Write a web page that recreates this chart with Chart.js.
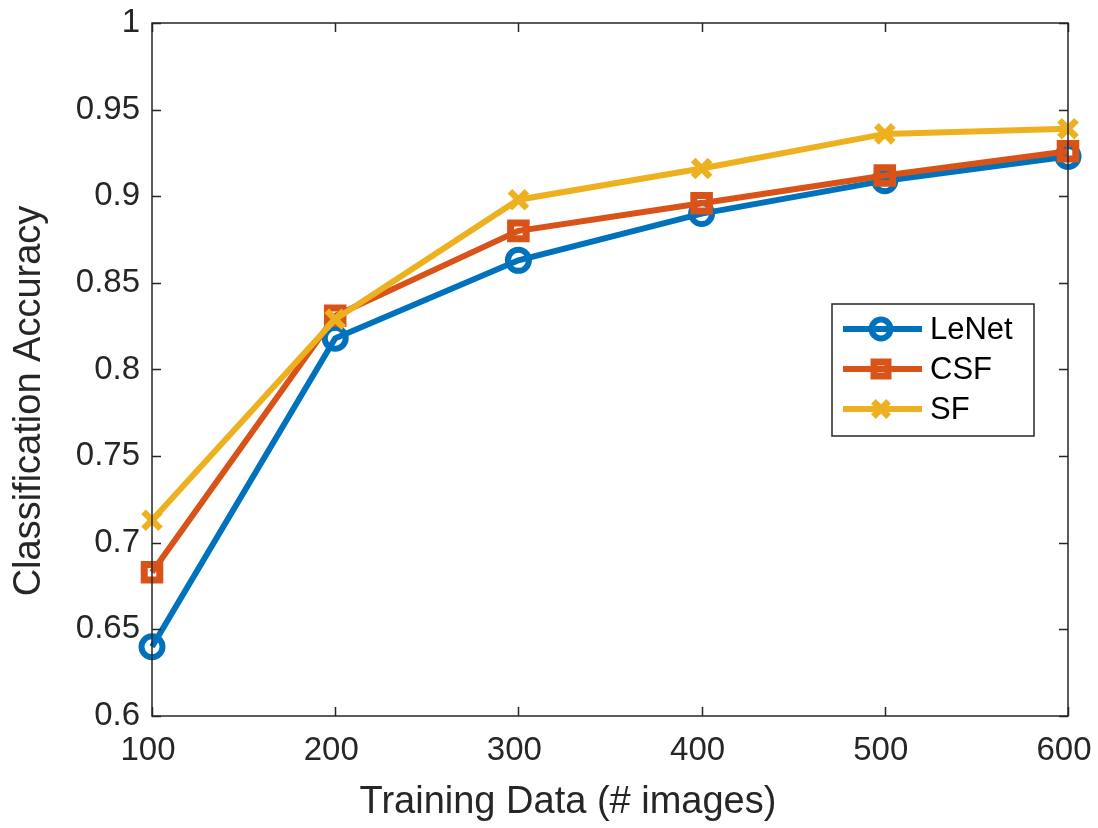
<!DOCTYPE html>
<html>
<head>
<meta charset="utf-8">
<script src="https://cdn.jsdelivr.net/npm/chart.js@4.4.1/dist/chart.umd.min.js"></script>
<style>
html,body{margin:0;padding:0;background:#fff;}
#wrap{width:1098px;height:828px;position:relative;}
</style>
</head>
<body>
<div id="wrap"><canvas id="c" width="1098" height="828"></canvas></div>
<script>
// ---- data ----
const trainingSizes = [100, 200, 300, 400, 500, 600];
const lenetAcc = [0.640, 0.818, 0.863, 0.890, 0.909, 0.923];
const csfAcc   = [0.683, 0.831, 0.880, 0.896, 0.912, 0.926];
const sfAcc    = [0.713, 0.829, 0.898, 0.916, 0.936, 0.939];
const seriesNames = ['LeNet', 'CSF', 'SF'];
const xTickValues = [100, 200, 300, 400, 500, 600];
const yTickValues = [0.6, 0.65, 0.7, 0.75, 0.8, 0.85, 0.9, 0.95, 1];
const xTitle = 'Training Data (# images)';
const yTitle = 'Classification Accuracy';

const FONT = '"Liberation Sans", Arial, Helvetica, sans-serif';
const AXC = '#262626';
const COLORS = ['#0072BD', '#D95319', '#EDB120'];

function pts(vals){ return trainingSizes.map((x,i)=>({x:x, y:vals[i]})); }

const datasets = [
  {label: seriesNames[0], data: pts(lenetAcc), borderColor: COLORS[0], pointStyle:'circle', pointRadius:10.5, pointBorderWidth:6, order:2},
  {label: seriesNames[1], data: pts(csfAcc),   borderColor: COLORS[1], pointStyle:'rect', pointRadius:11, pointBorderWidth:7, order:1},
  {label: seriesNames[2], data: pts(sfAcc),    borderColor: COLORS[2], pointStyle:'crossRot', pointRadius:12, pointBorderWidth:6.5, order:0}
].map(d => Object.assign({
  borderWidth: 6,
  backgroundColor: 'rgba(0,0,0,0)',
  pointBackgroundColor: 'rgba(0,0,0,0)',
  pointBorderColor: d.borderColor,
  pointHoverRadius: d.pointRadius,
  tension: 0,
  fill: false,
  clip: false
}, d));

const boxPlugin = {
  id: 'boxTicks',
  afterDatasetsDraw(chart) {
    const {ctx, chartArea: a, scales} = chart;
    const tl = 9;
    ctx.save();
    ctx.strokeStyle = AXC;
    ctx.lineWidth = 1.5;
    ctx.beginPath();
    xTickValues.forEach(v => {
      const px = Math.round(scales.x.getPixelForValue(v)) + 0.5;
      ctx.moveTo(px, a.bottom); ctx.lineTo(px, a.bottom - tl);
      ctx.moveTo(px, a.top); ctx.lineTo(px, a.top + tl);
    });
    yTickValues.forEach(v => {
      const py = Math.round(scales.y.getPixelForValue(v)) + 0.5;
      ctx.moveTo(a.left, py); ctx.lineTo(a.left + tl, py);
      ctx.moveTo(a.right, py); ctx.lineTo(a.right - tl, py);
    });
    ctx.stroke();
    ctx.strokeRect(a.left, a.top, a.right - a.left, a.bottom - a.top);
    ctx.restore();
  }
};

const titlePlugin = {
  id: 'axisTitles',
  afterDraw(chart) {
    const ctx = chart.ctx;
    ctx.save();
    ctx.fillStyle = AXC;
    ctx.font = '38px ' + FONT;
    ctx.textAlign = 'center';
    ctx.textBaseline = 'alphabetic';
    ctx.fillText(xTitle, 568, 813);
    ctx.translate(40, 401);
    ctx.rotate(-Math.PI / 2);
    ctx.fillText(yTitle, 0, 0);
    ctx.restore();
  }
};

const legendPlugin = {
  id: 'customLegend',
  afterDraw(chart) {
    const ctx = chart.ctx;
    const bx = 832, by = 304, bw = 202, bh = 132;
    ctx.save();
    ctx.fillStyle = '#fff';
    ctx.fillRect(bx, by, bw, bh);
    ctx.strokeStyle = AXC;
    ctx.lineWidth = 1.5;
    ctx.strokeRect(bx, by, bw, bh);
    const rows = [329, 369, 409];
    chart.data.datasets.forEach((ds, i) => {
      const y = rows[i];
      ctx.strokeStyle = ds.borderColor;
      ctx.lineWidth = ds.borderWidth;
      ctx.beginPath();
      ctx.moveTo(843, y); ctx.lineTo(922, y);
      ctx.stroke();
      ctx.fillStyle = 'rgba(0,0,0,0)';
      ctx.lineWidth = ds.pointBorderWidth;
      Chart.helpers.drawPoint(ctx, {pointStyle: ds.pointStyle, radius: ds.pointRadius * 0.9, borderWidth: ds.pointBorderWidth, rotation: 0}, 881, y);
      ctx.fillStyle = '#000';
      ctx.font = '31px ' + FONT;
      ctx.textBaseline = 'middle';
      ctx.textAlign = 'left';
      ctx.fillText(ds.label, 930, y + 1);
    });
    ctx.restore();
  }
};

function fmt(v){ return String(Number(v.toFixed(2))); }

new Chart(document.getElementById('c'), {
  type: 'line',
  data: { datasets },
  plugins: [boxPlugin, legendPlugin, titlePlugin],
  options: {
    responsive: false,
    animation: false,
    events: [],
    layout: { padding: { left: 0, right: 30, top: 23, bottom: 0 } },
    plugins: { legend: { display: false }, tooltip: { enabled: false } },
    scales: {
      x: {
        type: 'linear', min: 100, max: 600,
        afterBuildTicks(s){ s.ticks = xTickValues.map(v => ({value: v})); },
        afterFit(s){ s.height = 112; s.paddingLeft = 0; s.paddingRight = 0; },
        grid: { display: false, drawTicks: false },
        border: { display: false },
        ticks: { padding: 15, labelOffset: -4, color: AXC, font: { family: FONT, size: 33 }, callback: v => fmt(v), maxRotation: 0 },
        title: { display: false }
      },
      y: {
        type: 'linear', min: 0.6, max: 1,
        afterBuildTicks(s){ s.ticks = yTickValues.map(v => ({value: v})); },
        afterFit(s){ s.width = 152; s.paddingTop = 0; s.paddingBottom = 0; },
        grid: { display: false, drawTicks: false },
        border: { display: false },
        ticks: { padding: 12, color: AXC, font: { family: FONT, size: 33 }, callback: v => fmt(v) },
        title: { display: false }
      }
    }
  }
});
</script>
</body>
</html>
